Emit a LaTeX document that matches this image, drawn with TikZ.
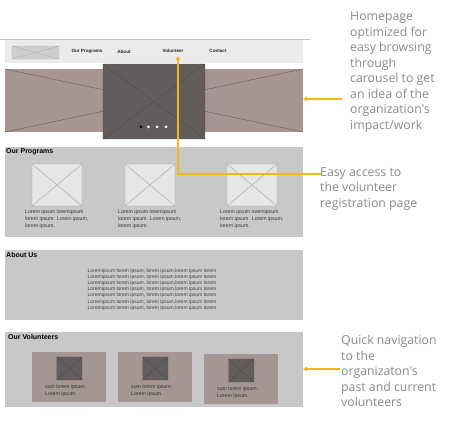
\documentclass[tikz,border=0pt]{standalone}
\usepackage{fontspec}
\setmainfont{Liberation Sans}
\newfontfamily\annotfont{Open Sans}
\usetikzlibrary{arrows.meta}
\definecolor{navgray}{HTML}{EBEBEB}
\definecolor{secgray}{HTML}{C8C8C8}
\definecolor{mauve}{HTML}{A59593}
\definecolor{darkimg}{HTML}{625D5C}
\definecolor{lightimg}{HTML}{E6E6E6}
\definecolor{hilite}{HTML}{F2B817}
\definecolor{annotgray}{HTML}{8A8A8A}
\tikzset{
  navtext/.style={font=\bfseries\fontsize{4.6}{5}\selectfont, text=black!85, inner sep=0pt},
  sectitle/.style={font=\bfseries\fontsize{7}{8}\selectfont, anchor=west, inner sep=0pt},
  tinytext/.style={font=\fontsize{5.2}{7}\selectfont, text=black!80, align=left, anchor=north west, inner sep=0pt},
  abouttext/.style={font=\fontsize{5}{6.2}\selectfont, text=black!75, align=center, inner sep=0pt},
  annot/.style={font=\annotfont\fontsize{12.3}{15.5}\selectfont, text=annotgray, align=left, anchor=north west, inner sep=0pt},
  callout/.style={draw=hilite, line width=1.3pt},
  calloutarrow/.style={callout, -{Triangle[length=4pt,width=4.5pt]}},
  imgx/.style={draw=gray!70, line width=0.4pt},
}
\begin{document}
\begin{tikzpicture}[x=1pt,y=-1pt]
\useasboundingbox (0,0) rectangle (450,430);
\fill[white] (0,0) rectangle (450,430);
% nav bar
\draw[gray!50, line width=0.8pt] (0,39) -- (310,39);
\fill[navgray] (5,40) rectangle (303,63);
\fill[secgray!90] (12,46) rectangle (59,59);
\draw[gray!60, line width=0.4pt] (12,46) rectangle (59,59) (12,46) -- (59,59) (12,59) -- (59,46);
\node[navtext] (navprog) at (87,51) {Our Programs};
\node[navtext] (navabout) at (124,52) {About};
\node[navtext] (navvol) at (173,51) {Volunteer};
\node[navtext] (navcont) at (218,51) {Contact};
% carousel
\fill[mauve] (5,69) rectangle (303,132);
\draw[darkimg, line width=0.4pt] (5,69) -- (303,132) (5,132) -- (303,69);
\coordinate (carouselright) at (303,99);
\fill[darkimg] (103,64) rectangle (205,139);
\draw[black!70, line width=0.4pt] (103,64) rectangle (205,139) (103,64) -- (205,139) (103,139) -- (205,64);
\fill[black] (141,127) circle (1.5);
\foreach \x in {148.5,157,166} \fill[white] (\x,127) circle (1.5);
% our programs
\fill[secgray] (5,147) rectangle (303,237);
\node[sectitle] (progtitle) at (6,152) {Our Programs};
\foreach \x/\n in {32/a,125/b,227/c}{
  \fill[lightimg] (\x,164) rectangle ++(50,42);
  \draw[imgx] (\x,164) rectangle ++(50,42) (\x,164) -- ++(50,42) (\x,206) -- ++(50,-42);
  \node[tinytext] (prog\n) at (\x-7,209.5) {Lorem ipsum loremipsum\\lorem ipsum. Lorem ipsum,\\lorem ipsum.};
}
% about us
\fill[secgray] (5,250) rectangle (303,320);
\node[sectitle] (abouttitle) at (6,255) {About Us};
\node[abouttext] (abouttxt) at (152,289.5) {Loremipsum lorem ipsum, lorem ipsum,lorem ipsum lorem\\Loremipsum lorem ipsum, lorem ipsum,lorem ipsum lorem\\Loremipsum lorem ipsum, lorem ipsum,lorem ipsum lorem\\Loremipsum lorem ipsum, lorem ipsum,lorem ipsum lorem\\Loremipsum lorem ipsum, lorem ipsum,lorem ipsum lorem\\Loremipsum lorem ipsum, lorem ipsum,lorem ipsum lorem\\Loremipsum lorem ipsum, lorem ipsum,lorem ipsum lorem};
% our volunteers
\fill[secgray] (5,332) rectangle (303,407);
\node[sectitle] (voltitle) at (8,337) {Our Volunteers};
\coordinate (volright) at (303,369);
\foreach \x/\y/\n in {32/352/a,118/352/b,204/354/c}{
  \fill[mauve] (\x,\y) rectangle ++(74,50);
  \fill[darkimg] (\x+24.5,\y+5) rectangle ++(25.5,23);
  \draw[black!70, line width=0.4pt] (\x+24.5,\y+5) rectangle ++(25.5,23) (\x+24.5,\y+5) -- ++(25.5,23) (\x+24.5,\y+28) -- ++(25.5,-23);
  \node[tinytext] (vol\n) at (\x+13,\y+33) {sum lorem ipsum.\\Lorem ipsum.};
}
% annotations
\node[annot] (anhome) at (350,12) {Homepage\\optimized for\\easy browsing\\through\\carousel to get\\an idea of the\\organization's\\impact/work};
\node[annot] (aneasy) at (320,167.5) {Easy access to\\the volunteer\\registration page};
\node[annot] (anquick) at (341,335) {Quick navigation\\to the\\organizaton's\\past and current\\volunteers};
\coordinate (homestart) at (342,99);
\coordinate (easystart) at (321,174);
\coordinate (easycorner) at (178,174);
\coordinate (easyend) at (178,56);
\coordinate (quickstart) at (340,369);
\draw[calloutarrow] (homestart) -- (carouselright);
\draw[calloutarrow] (easystart) -- (easycorner) -- (easyend);
\draw[calloutarrow] (quickstart) -- (volright);
\end{tikzpicture}
\end{document}
